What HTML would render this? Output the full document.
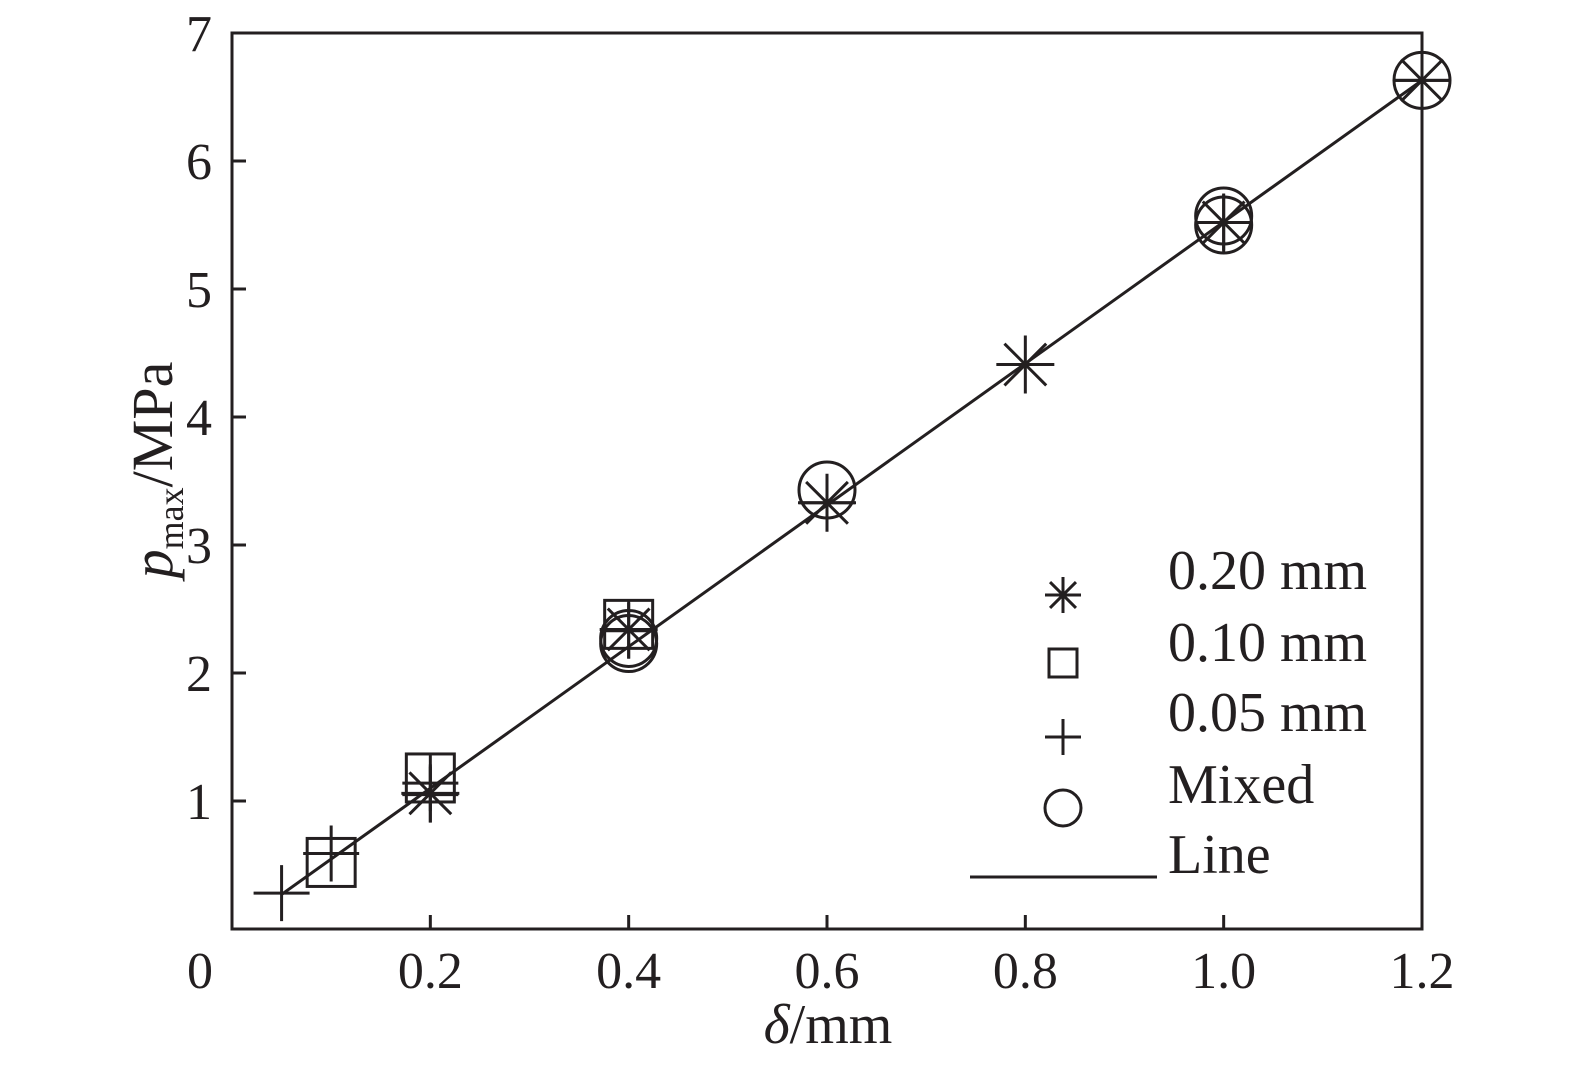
<!DOCTYPE html>
<html><head><meta charset="utf-8"><style>
body{margin:0;background:#fff}
svg{display:block}
text{font-family:"Liberation Serif","DejaVu Serif",serif;fill:#231f20}
</style></head><body>
<svg id="chart" width="1575" height="1071" viewBox="0 0 1575 1071" xmlns="http://www.w3.org/2000/svg">
<g id="axes"></g>
<g id="marks"></g>
<g id="legend"></g>
</svg>
<script>
const xTicks=[0,0.2,0.4,0.6,0.8,1.0,1.2];
const xTickLabels=["0","0.2","0.4","0.6","0.8","1.0","1.2"];
const yTicks=[1,2,3,4,5,6,7];
const yTickLabels=["1","2","3","4","5","6","7"];
const lineX=[0.05,1.2];
const lineY=[0.27,6.63];
const starX=[0.2,0.4,0.6,0.8,1.0,1.2];
const starY=[1.06,2.34,3.33,4.41,5.52,6.63];
const squareX=[0.1,0.2,0.4];
const squareY=[0.52,1.18,2.38];
const plusX=[0.05,0.1,0.2,0.2,0.4,0.6,1.0,1.2];
const plusY=[0.28,0.59,1.14,1.05,2.33,3.33,5.52,6.63];
const circleX=[0.4,0.4,0.6,1.0,1.0,1.2];
const circleY=[2.27,2.23,3.43,5.57,5.50,6.63];

const X0=232,X1=1422,Y0=929,Y1=33;
const sx=v=>X0+(v-0)/1.2*(X1-X0);
const sy=v=>Y0-(v-0)/7*(Y0-Y1);
const NS="http://www.w3.org/2000/svg";
const C="#231f20";
function mk(tag,attrs,parent){const e=document.createElementNS(NS,tag);for(const k in attrs)e.setAttribute(k,attrs[k]);parent.appendChild(e);return e;}
const axes=document.getElementById('axes'),marks=document.getElementById('marks'),legend=document.getElementById('legend');

let frame=mk('rect',{x:X0,y:Y1,width:X1-X0,height:Y0-Y1,fill:'none',stroke:C,'stroke-width':3},axes);


xTicks.forEach((v,i)=>{
  if(i>0&&i<xTicks.length-1){const t=mk('line',{x1:sx(v),x2:sx(v),y1:Y0,y2:Y0-14,stroke:C,'stroke-width':3},axes);
  
  }
  const lx=i===0?200:sx(v);
  const l=mk('text',{x:lx,y:988,'font-size':52,'text-anchor':'middle'},axes);l.textContent=xTickLabels[i];
  
  
});
yTicks.forEach((v,i)=>{
  if(i<yTicks.length-1){const t=mk('line',{x1:X0,x2:X0+14,y1:sy(v),y2:sy(v),stroke:C,'stroke-width':3},axes);
  
  }
  const l=mk('text',{x:212,y:sy(v)+18,'font-size':52,'text-anchor':'end'},axes);l.textContent=yTickLabels[i];
  
  
});
const xt=mk('text',{x:828,y:1043,'font-size':56,'text-anchor':'middle'},axes);
xt.innerHTML='<tspan font-style="italic">δ</tspan>/mm';


const yt=mk('text',{x:0,y:0,'font-size':58,'text-anchor':'middle',transform:'translate(172,470) rotate(-90)'},axes);
yt.innerHTML='<tspan font-style="italic">p</tspan><tspan font-size="36" dy="11">max</tspan><tspan dy="-11">/MPa</tspan>';



const fl=mk('line',{x1:sx(lineX[0]),y1:sy(lineY[0]),x2:sx(lineX[1]),y2:sy(lineY[1]),stroke:C,'stroke-width':3},marks);



function star(g,cx,cy,r){const d=r*0.72;mk('path',{d:`M${cx} ${cy-r}V${cy+r}M${cx-r} ${cy}H${cx+r}M${cx-d} ${cy-d}L${cx+d} ${cy+d}M${cx-d} ${cy+d}L${cx+d} ${cy-d}`,stroke:C,'stroke-width':3,fill:'none'},g);}
function square(g,cx,cy,h){mk('rect',{x:cx-h,y:cy-h,width:2*h,height:2*h,stroke:C,'stroke-width':3,fill:'none'},g);}
function plus(g,cx,cy,h){mk('path',{d:`M${cx} ${cy-h}V${cy+h}M${cx-h} ${cy}H${cx+h}`,stroke:C,'stroke-width':3,fill:'none'},g);}
function circ(g,cx,cy,r){mk('circle',{cx:cx,cy:cy,r:r,stroke:C,'stroke-width':3,fill:'none'},g);}

starX.forEach((v,i)=>{const g=mk('g',{},marks);
  
  
  star(g,sx(v),sy(starY[i]),29);});
squareX.forEach((v,i)=>{const g=mk('g',{},marks);
  
  
  square(g,sx(v),sy(squareY[i]),24);});
plusX.forEach((v,i)=>{const g=mk('g',{},marks);
  
  
  plus(g,sx(v),sy(plusY[i]),28);});
circleX.forEach((v,i)=>{const g=mk('g',{},marks);
  
  
  circ(g,sx(v),sy(circleY[i]),28);});

const entries=[["0.20 mm",595,589,'star'],["0.10 mm",663,661,'square'],["0.05 mm",737,731,'plus'],["Mixed",808,803,'circle'],["Line",877,873,'line']];
entries.forEach(e=>{
  const g=mk('g',{},legend);
  
  
  const cx=1063,cy=e[1];
  if(e[3]==='star')star(g,cx,cy,18);
  if(e[3]==='square')square(g,cx,cy,14);
  if(e[3]==='plus')plus(g,cx,cy,18);
  if(e[3]==='circle')circ(g,cx,cy,18);
  if(e[3]==='line')mk('line',{x1:970,x2:1157,y1:cy,y2:cy,stroke:C,'stroke-width':3},g);
  const t=mk('text',{x:1168,y:e[2],'font-size':56},g);t.textContent=e[0];
});
</script>
</body></html>
